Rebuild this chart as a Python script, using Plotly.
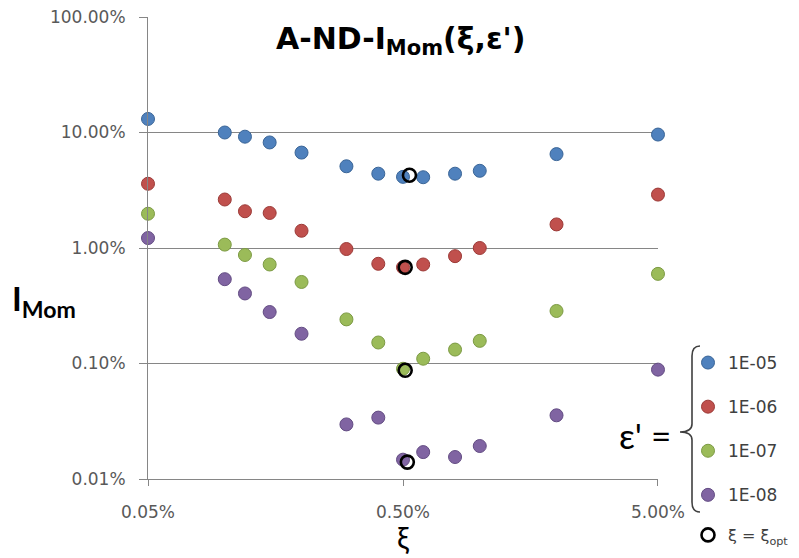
import plotly.graph_objects as go

# xi values (fraction) shared by every series
xi = [0.0005, 0.0010, 0.0012, 0.0015, 0.0020, 0.0030, 0.0040,
      0.0050, 0.0060, 0.0080, 0.0100, 0.0200, 0.0500]

# I_Mom (fraction) per epsilon'
i_1e05 = [0.131, 0.100, 0.092, 0.082, 0.067, 0.051, 0.044,
          0.0413, 0.041, 0.044, 0.0466, 0.065, 0.096]
i_1e06 = [0.036, 0.0263, 0.0208, 0.0201, 0.0141, 0.0098, 0.0073,
          0.0068, 0.0072, 0.0085, 0.0100, 0.0160, 0.029]
i_1e07 = [0.0198, 0.0107, 0.0087, 0.0072, 0.00508, 0.00241, 0.00152,
          0.00090, 0.00110, 0.00132, 0.00157, 0.00285, 0.00597]
i_1e08 = [0.0122, 0.00537, 0.00404, 0.00279, 0.00181, 0.000297, 0.000340,
          0.000147, 0.000171, 0.000155, 0.000193, 0.000356, 0.000885]

series_names = ["1E-05", "1E-06", "1E-07", "1E-08"]
series_vals = [i_1e05, i_1e06, i_1e07, i_1e08]
colors = ["#4F81BD", "#C0504D", "#9BBB59", "#8064A2"]
edge_colors = ["#3A6597", "#9C3A37", "#7C9A43", "#634C83"]

# optimal xi for each epsilon' and the I_Mom there
xi_opt = [0.0053, 0.0051, 0.0051, 0.0052]
i_opt = [0.0427, 0.0068, 0.000873, 0.000140]

y_tickvals = [0.0001, 0.001, 0.01, 0.1, 1.0]
y_ticktext = ["0.01%", "0.10%", "1.00%", "10.00%", "100.00%"]
x_tickvals = [0.0005, 0.005, 0.05]
x_ticktext = ["0.05%", "0.50%", "5.00%"]

W, H = 799, 558
L, R, T, B = 148, 141, 17, 79
PW, PH = W - L - R, H - T - B


def px(x):
    return (x - L) / PW


def py(y):
    return 1 - (y - T) / PH


fig = go.Figure()
for k, (name, vals) in enumerate(zip(series_names, series_vals)):
    fig.add_trace(go.Scatter(
        x=xi, y=vals, mode="markers", name=name,
        legendgroup=name, legend="legend",
        marker=dict(size=13, color=colors[k],
                    line=dict(color=edge_colors[k], width=1)),
        cliponaxis=False,
    ))

fig.add_trace(go.Scatter(
    x=xi_opt, y=i_opt, mode="markers", name="ξ = ξ<sub>opt</sub>",
    legend="legend2",
    marker=dict(symbol="circle-open", size=13, color="#000000",
                line=dict(width=2.6, color="#000000")),
    cliponaxis=False,
))

tick_font = dict(family="DejaVu Sans", size=17, color="#595959")
axis_col = "#868686"

fig.update_xaxes(
    type="log", range=[-3.30108, -1.30098],
    tickvals=x_tickvals, ticktext=x_ticktext, tickfont=tick_font,
    showgrid=False, zeroline=False,
    showline=True, linecolor=axis_col, linewidth=1,
    ticks="outside", ticklen=6, tickcolor=axis_col,
    ticklabelstandoff=12,
)
fig.update_yaxes(
    type="log", range=[-4, 0],
    tickvals=y_tickvals, ticktext=y_ticktext, tickfont=tick_font,
    showgrid=True, gridcolor=axis_col, gridwidth=1, zeroline=False,
    showline=True, linecolor=axis_col, linewidth=1,
    ticks="outside", ticklen=8, tickcolor=axis_col,
    ticklabelstandoff=10,
)

# brace grouping the epsilon' legend entries
bx, btop, bbot, bmid, btip = 692, 346, 512, 432, 680
brace = (
    f"M {px(bx + 8)},{py(btop)} "
    f"Q {px(bx)},{py(btop)} {px(bx)},{py(btop + 10)} "
    f"L {px(bx)},{py(bmid - 8)} "
    f"Q {px(bx)},{py(bmid)} {px(btip)},{py(bmid)} "
    f"Q {px(bx)},{py(bmid)} {px(bx)},{py(bmid + 8)} "
    f"L {px(bx)},{py(bbot - 10)} "
    f"Q {px(bx)},{py(bbot)} {px(bx + 8)},{py(bbot)}"
)
fig.add_shape(type="path", path=brace, xref="paper", yref="paper",
              line=dict(color="#404040", width=1.6))

fig.add_annotation(
    text="A-ND-I<sub>Mom</sub>(ξ,ε')", xref="paper", yref="paper",
    x=px(401), y=py(40), xanchor="center", yanchor="middle",
    showarrow=False,
    font=dict(family="DejaVu Sans", size=30, color="#000000", weight="bold"),
)
fig.add_annotation(
    text="I<sub>Mom</sub>", xref="paper", yref="paper",
    x=px(10), y=py(300), xanchor="left", yanchor="middle",
    showarrow=False,
    font=dict(family="Lato", size=33, color="#000000", weight="bold"),
)
fig.add_annotation(
    text="ξ", xref="paper", yref="paper",
    x=px(403), y=py(537), xanchor="center", yanchor="middle",
    showarrow=False,
    font=dict(family="Lato", size=30, color="#000000"),
)
fig.add_annotation(
    text="ε' =", xref="paper", yref="paper",
    x=px(645), y=py(435), xanchor="center", yanchor="middle",
    showarrow=False,
    font=dict(family="Lato", size=35, color="#000000"),
)

fig.update_layout(
    width=W, height=H,
    margin=dict(l=L, r=R, t=T, b=B, autoexpand=False),
    paper_bgcolor="white", plot_bgcolor="white",
    showlegend=True,
    legend=dict(
        x=px(688), y=py(345), xanchor="left", yanchor="top",
        font=dict(family="DejaVu Sans", size=17, color="#404040"),
        tracegroupgap=19, itemwidth=30, bgcolor="rgba(0,0,0,0)",
    ),
    legend2=dict(
        x=px(688), y=py(518), xanchor="left", yanchor="top",
        font=dict(family="DejaVu Sans", size=16, color="#404040"),
        itemwidth=30, bgcolor="rgba(0,0,0,0)",
    ),
)

fig.write_html("out.html")
